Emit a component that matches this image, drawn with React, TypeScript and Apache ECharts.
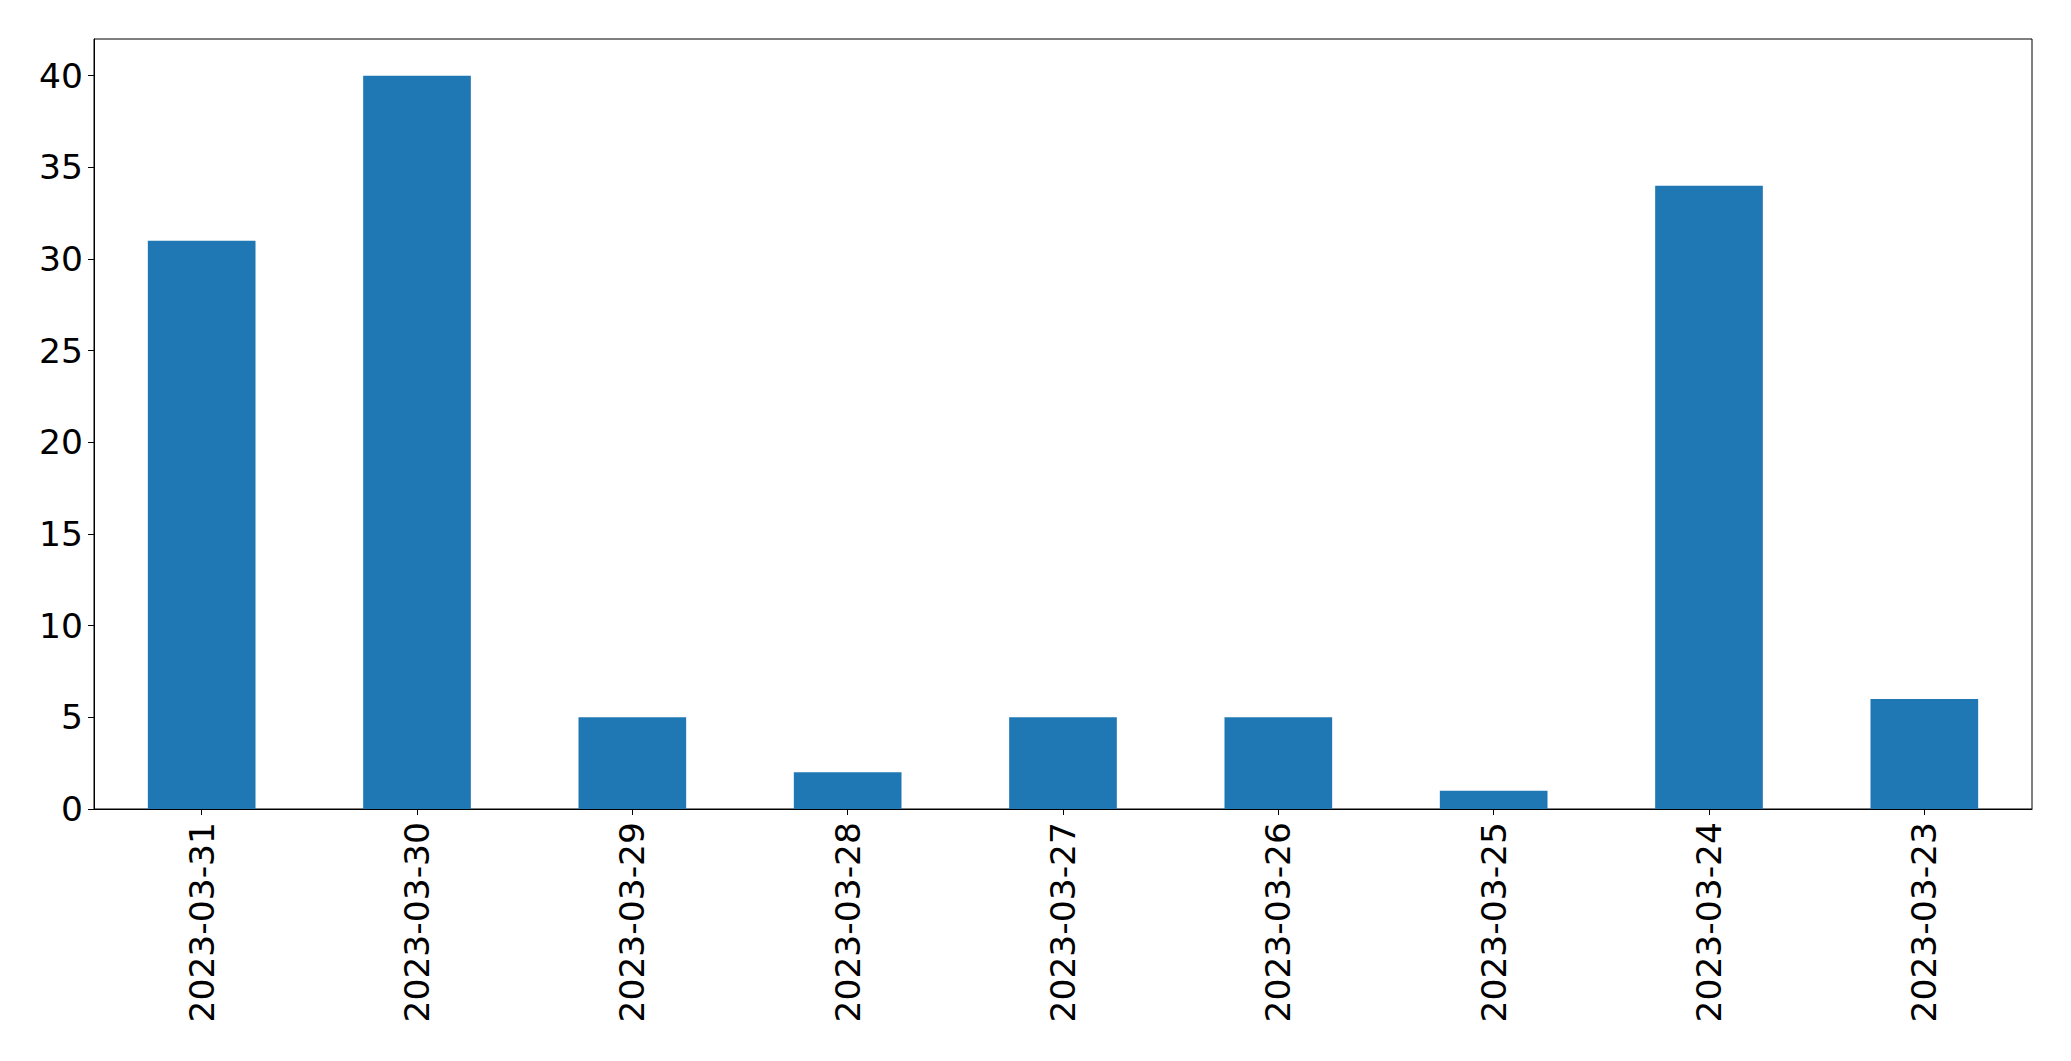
import React, { useEffect, useRef } from "react";
import * as echarts from "echarts";

const categories = [
  "2023-03-31",
  "2023-03-30",
  "2023-03-29",
  "2023-03-28",
  "2023-03-27",
  "2023-03-26",
  "2023-03-25",
  "2023-03-24",
  "2023-03-23",
];
const values = [31, 40, 5, 2, 5, 5, 1, 34, 6];
const yTicks = [0, 5, 10, 15, 20, 25, 30, 35, 40];

export default function App() {
  const ref = useRef<HTMLDivElement>(null);
  useEffect(() => {
    if (!ref.current) return;
    const chart = echarts.init(ref.current, null, { renderer: "svg" });
    const font = "DejaVu Sans";
    chart.setOption({
      animation: false,
      backgroundColor: "#ffffff",
      grid: {
        left: 94,
        right: 39,
        top: 39,
        bottom: 252,
        show: true,
        borderColor: "#000000",
        borderWidth: 1,
        backgroundColor: "transparent",
        containLabel: false,
      },
      xAxis: {
        type: "category",
        data: categories,
        axisLine: { show: true, lineStyle: { color: "#000000", width: 1 } },
        axisTick: {
          show: true,
          alignWithLabel: true,
          length: 6,
          lineStyle: { color: "#000000", width: 1 },
        },
        axisLabel: {
          rotate: 90,
          margin: 13,
          fontSize: 34.5,
          fontFamily: font,
          color: "#000000",
          interval: 0,
        },
        splitLine: { show: false },
      },
      yAxis: {
        type: "value",
        min: 0,
        max: 42,
        interval: 5,
        axisLine: { show: true, lineStyle: { color: "#000000", width: 1 } },
        axisTick: {
          show: true,
          length: 6,
          lineStyle: { color: "#000000", width: 1 },
          customValues: yTicks,
        },
        axisLabel: {
          margin: 11,
          fontSize: 34.5,
          fontFamily: font,
          color: "#000000",
          customValues: yTicks,
        },
        splitLine: { show: false },
      },
      series: [
        {
          type: "bar",
          data: values,
          barCategoryGap: "50%",
          itemStyle: { color: "#1f77b4" },
        },
      ],
    });
    return () => chart.dispose();
  }, []);
  return (
    <div
      ref={ref}
      style={{ position: "fixed", left: 0, top: 0, width: 2071, height: 1061, background: "#fff" }}
    />
  );
}
